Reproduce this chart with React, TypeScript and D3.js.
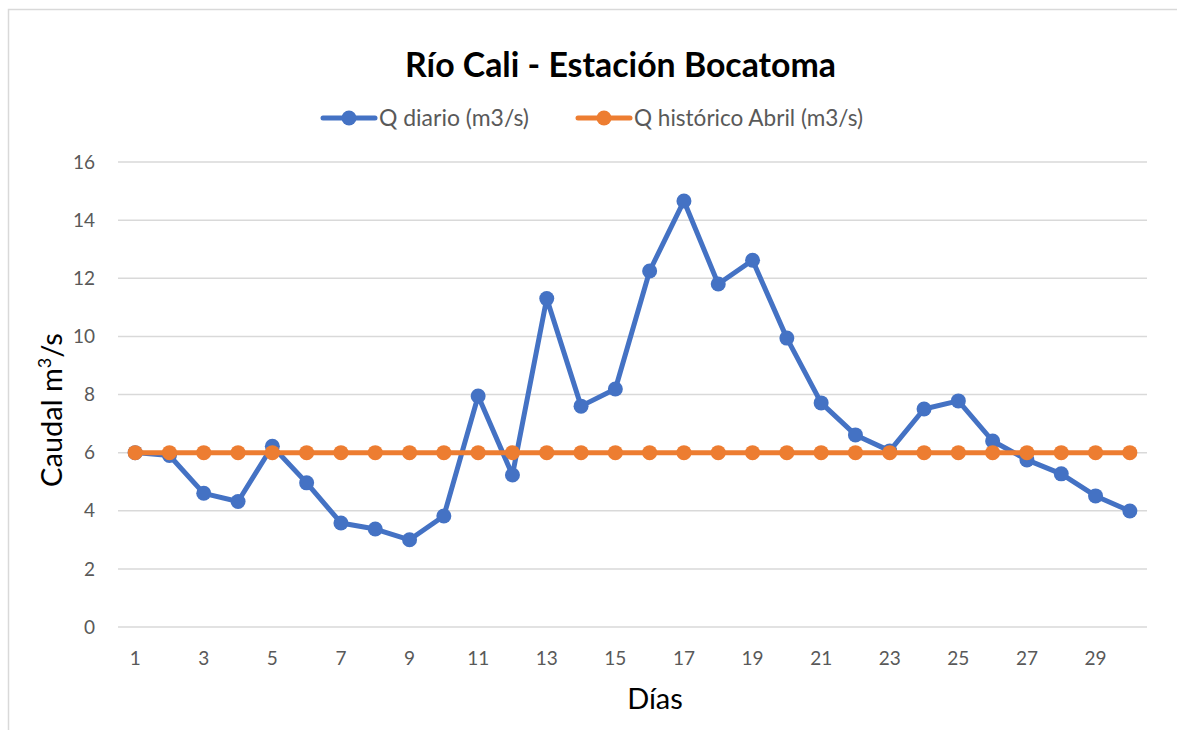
import React, { useEffect, useRef } from 'react'
import * as d3 from 'd3'

// días del mes de abril
const dias = d3.range(1, 31)
const qDiario = [
  6.0, 5.9, 4.6, 4.32, 6.22, 4.96, 3.58, 3.37, 3.0, 3.82,
  7.95, 5.23, 11.3, 7.6, 8.19, 12.25, 14.66, 11.8, 12.62, 9.94,
  7.71, 6.61, 6.06, 7.5, 7.78, 6.4, 5.75, 5.27, 4.51, 3.99,
]
const qHistorico = [
  6, 6, 6, 6, 6, 6, 6, 6, 6, 6,
  6, 6, 6, 6, 6, 6, 6, 6, 6, 6,
  6, 6, 6, 6, 6, 6, 6, 6, 6, 6,
]
const yTicks = [0, 2, 4, 6, 8, 10, 12, 14, 16]
const series = [
  { name: 'Q diario (m3/s)', values: qDiario, color: '#4472C4' },
  { name: 'Q histórico Abril (m3/s)', values: qHistorico, color: '#ED7D31' },
]

const W = 1177
const H = 730
const FONT = 'Lato, "Open Sans", sans-serif'

export default function App() {
  const ref = useRef<SVGSVGElement>(null)

  useEffect(() => {
    const svg = d3.select(ref.current)
    svg.selectAll('*').remove()

    const margin = { top: 162, left: 118, bottom: 103, right: 30 }
    const width = W - margin.left - margin.right
    const height = H - margin.top - margin.bottom

    // marco del gráfico
    svg.append('path')
      .attr('d', `M8.5,${H} V9.5 H${W}`)
      .attr('fill', 'none')
      .attr('stroke', '#d9d9d9')
      .attr('stroke-width', 1.5)

    const g = svg.append('g').attr('transform', `translate(${margin.left},${margin.top})`)

    const x = d3.scaleBand<number>().domain(dias).range([0, width])
    const y = d3.scaleLinear().domain([0, 16]).range([height, 0])
    const cx = (d: number) => (x(d) as number) + x.bandwidth() / 2

    // grid
    g.selectAll('line.grid')
      .data(yTicks)
      .enter()
      .append('line')
      .attr('x1', 0)
      .attr('x2', width)
      .attr('y1', d => y(d))
      .attr('y2', d => y(d))
      .attr('stroke', '#d9d9d9')
      .attr('stroke-width', 1.5)

    g.selectAll('text.ytick')
      .data(yTicks)
      .enter()
      .append('text')
      .attr('x', -23)
      .attr('y', d => y(d))
      .attr('dy', '0.35em')
      .attr('text-anchor', 'end')
      .attr('font-family', FONT)
      .attr('font-size', 19)
      .attr('fill', '#595959')
      .text(d => d)

    g.selectAll('text.xtick')
      .data(dias.filter(d => d % 2 === 1))
      .enter()
      .append('text')
      .attr('x', d => cx(d))
      .attr('y', height + 38)
      .attr('text-anchor', 'middle')
      .attr('font-family', FONT)
      .attr('font-size', 19)
      .attr('fill', '#595959')
      .text(d => d)

    const line = d3.line<number>()
      .x((d, i) => cx(dias[i]))
      .y(d => y(d))

    series.forEach(s => {
      g.append('path')
        .datum(s.values)
        .attr('d', line)
        .attr('fill', 'none')
        .attr('stroke', s.color)
        .attr('stroke-width', 5)
        .attr('stroke-linejoin', 'round')
      g.selectAll(null)
        .data(s.values)
        .enter()
        .append('circle')
        .attr('cx', (d, i) => cx(dias[i]))
        .attr('cy', d => y(d))
        .attr('r', 7.5)
        .attr('fill', s.color)
    })

    // titulo
    svg.append('text')
      .attr('x', 405)
      .attr('y', 77)
      .attr('font-family', FONT)
      .attr('font-weight', 'bold')
      .attr('font-size', 34)
      .attr('textLength', 431)
      .attr('lengthAdjust', 'spacingAndGlyphs')
      .attr('fill', '#000')
      .text('Río Cali - Estación Bocatoma')

    // leyenda
    const legX = [321, 576]
    const legW = [150, 229]
    series.forEach((s, i) => {
      const lg = svg.append('g').attr('transform', `translate(${legX[i]},118)`)
      lg.append('line')
        .attr('x1', 2).attr('x2', 54)
        .attr('stroke', s.color)
        .attr('stroke-width', 5)
        .attr('stroke-linecap', 'round')
      lg.append('circle').attr('cx', 28).attr('r', 7.5).attr('fill', s.color)
      lg.append('text')
        .attr('x', 58)
        .attr('dy', '0.35em')
        .attr('font-family', FONT)
        .attr('font-size', 22.5)
        .attr('textLength', legW[i])
        .attr('lengthAdjust', 'spacingAndGlyphs')
        .attr('fill', '#595959')
        .text(s.name)
    })

    // títulos de ejes
    svg.append('text')
      .attr('x', 655)
      .attr('y', 709)
      .attr('text-anchor', 'middle')
      .attr('font-family', FONT)
      .attr('font-size', 29)
      .attr('fill', '#000')
      .text('Días')

    const yt = svg.append('text')
      .attr('transform', `translate(62,410) rotate(-90)`)
      .attr('text-anchor', 'middle')
      .attr('font-family', FONT)
      .attr('font-size', 29)
      .attr('fill', '#000')
    yt.append('tspan').text('Caudal m')
    yt.append('tspan').attr('font-size', 18).attr('dy', -11).text('3')
    yt.append('tspan').attr('dy', 11).text('/s')
  }, [])

  return (
    <svg
      ref={ref}
      width={W}
      height={H}
      style={{ position: 'absolute', left: 0, top: 0, background: '#fff' }}
    />
  )
}
